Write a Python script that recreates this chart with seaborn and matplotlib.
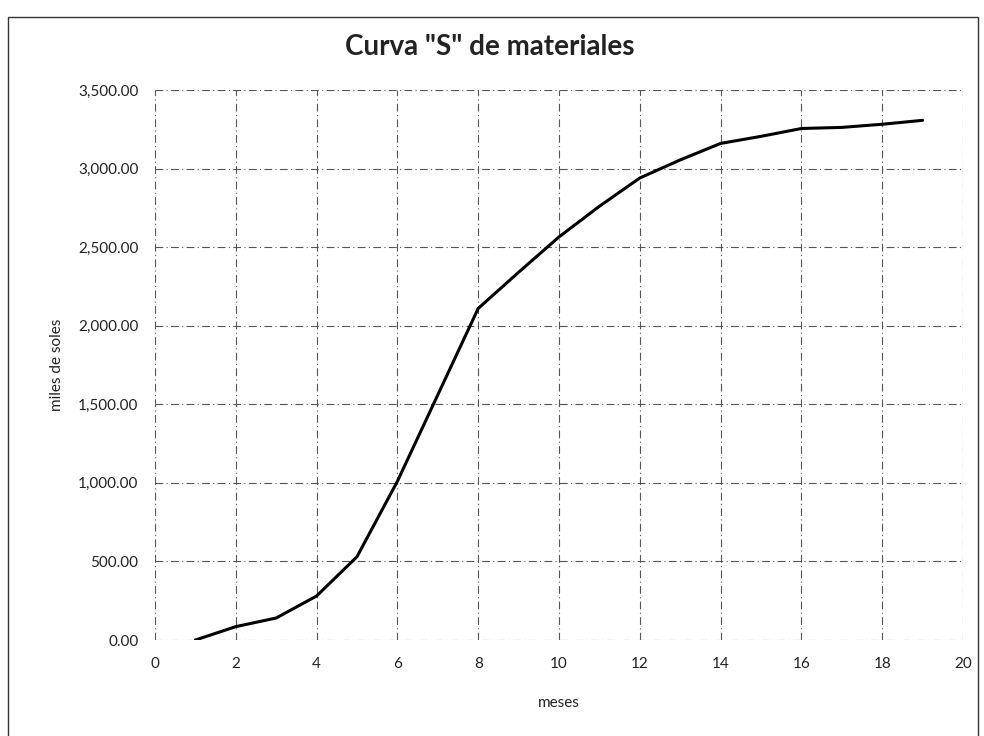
import matplotlib
matplotlib.use("Agg")
import matplotlib.pyplot as plt
import seaborn as sns
import pandas as pd
from matplotlib.ticker import FuncFormatter, MultipleLocator
from matplotlib.patches import Rectangle

meses = [1, 2, 3, 4, 5, 6, 7, 8, 9, 10, 11, 12, 13, 14, 15, 16, 17, 18, 19]
miles_de_soles = [0, 85, 140, 280, 530, 1010, 1560, 2110, 2340, 2565, 2760, 2940,
                  3055, 3160, 3205, 3255, 3262, 3282, 3307]

sns.set_theme(style="white")
plt.rcParams['font.family'] = ['Lato', 'DejaVu Sans']

df = pd.DataFrame({"meses": meses, "miles": miles_de_soles})

fig = plt.figure(figsize=(9.84, 7.36), dpi=100)
ax = fig.add_axes([155/984, 1 - 640/736, (963-155)/984, (640-90)/736])

sns.lineplot(data=df, x="meses", y="miles", ax=ax, color="black", linewidth=2.2)

ax.set_xlim(0, 20)
ax.set_ylim(0, 3500)
ax.xaxis.set_major_locator(MultipleLocator(2))
ax.yaxis.set_major_locator(MultipleLocator(500))
ax.yaxis.set_major_formatter(FuncFormatter(lambda v, p: f"{v:,.2f}"))
ax.grid(True, color="#555555", linestyle=(0, (7, 3, 1, 3)), linewidth=0.8)
for s in ax.spines.values():
    s.set_visible(False)
ax.tick_params(axis="both", length=0, labelsize=11, colors="#222222", pad=12)
ax.set_xlabel("meses", fontsize=11, color="#222222", labelpad=18)
ax.set_ylabel("miles de soles", fontsize=11, color="#222222", labelpad=10)

fig.text(490/984, 1 - 47/736, 'Curva "S" de materiales', ha="center", va="center",
         fontsize=20, fontweight="bold", color="#222222")

fig.patches.append(Rectangle((8/984, -0.05), (978-8)/984, 1.05 - 17/736,
                             transform=fig.transFigure, fill=False,
                             edgecolor="#333333", linewidth=1.0, linestyle="-"))

fig.savefig("out.png", dpi=100)
